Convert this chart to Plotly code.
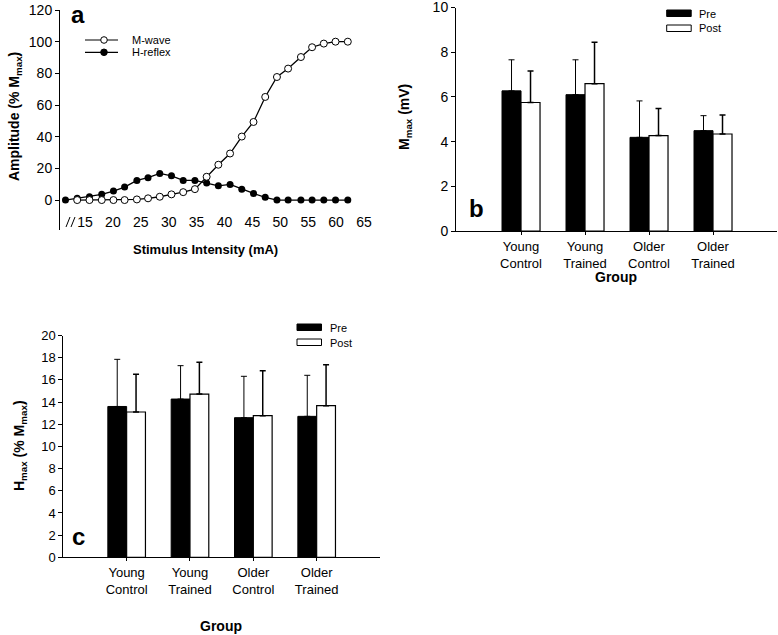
import plotly.graph_objects as go

W, H = 778, 635
FONT = "Liberation Sans, Arial, sans-serif"

# panel a: recruitment curve
stim_ma = [11.5, 13.6, 15.8, 18.0, 20.1, 22.1, 24.3, 26.3, 28.4, 30.5, 32.6, 34.7, 36.8,
           38.9, 41.0, 43.1, 45.2, 47.3, 49.4, 51.4, 53.7, 55.7, 57.8, 59.9, 62.1]
m_wave = [None, 0, 0, 0, 0, 0, 0.4, 1.1, 2.1, 3.6, 5.0, 6.9, 14.7,
          22.3, 29.4, 40.1, 49.3, 65.1, 77.7, 83.0, 90.3, 96.5, 98.8, 100.0, 100.0]
h_reflex = [0, 1.1, 2.1, 3.6, 5.7, 8.2, 12.4, 14.1, 16.8, 15.3, 12.4, 12.4, 10.7,
            9.0, 9.9, 6.9, 4.2, 1.7, 0, 0, 0, 0, 0, 0, 0]
stim_ticks = [15, 20, 25, 30, 35, 40, 45, 50, 55, 60, 65]

groups = ["Young<br>Control", "Young<br>Trained", "Older<br>Control", "Older<br>Trained"]

# panel b: Mmax (mV)
mmax_pre = [6.27, 6.10, 4.19, 4.49]
mmax_pre_sd = [1.39, 1.56, 1.63, 0.67]
mmax_post = [5.75, 6.59, 4.27, 4.34]
mmax_post_sd = [1.41, 1.85, 1.21, 0.85]

# panel c: Hmax (% Mmax)
hmax_pre = [13.6, 14.27, 12.59, 12.71]
hmax_pre_sd = [4.25, 3.01, 3.73, 3.70]
hmax_post = [13.1, 14.72, 12.77, 13.67]
hmax_post_sd = [3.40, 2.86, 4.06, 3.70]


def px(x):
    return x / W


def py(y):
    return 1 - y / H


fig = go.Figure()

fig.add_trace(go.Scatter(
    x=stim_ma, y=h_reflex, mode="lines+markers", name="H-reflex",
    line=dict(color="black", width=1.3),
    marker=dict(symbol="circle", size=7, color="black"),
    xaxis="x", yaxis="y", showlegend=False,
))
fig.add_trace(go.Scatter(
    x=stim_ma, y=m_wave, mode="lines+markers", name="M-wave",
    line=dict(color="black", width=1.3),
    marker=dict(symbol="circle", size=7, color="white", line=dict(color="black", width=1)),
    xaxis="x", yaxis="y", showlegend=False,
))


def add_bars(pre, pre_sd, post, post_sd, xa, ya):
    fig.add_trace(go.Bar(
        x=groups, y=pre, name="Pre", marker=dict(color="black", line=dict(color="black", width=1)),
        error_y=dict(type="data", symmetric=False, array=pre_sd, arrayminus=[0] * len(pre),
                     color="black", thickness=1, width=3),
        xaxis=xa, yaxis=ya, showlegend=False,
    ))
    fig.add_trace(go.Bar(
        x=groups, y=post, name="Post", marker=dict(color="white", line=dict(color="black", width=1.2)),
        error_y=dict(type="data", symmetric=False, array=post_sd, arrayminus=[0] * len(post),
                     color="black", thickness=1.5, width=3),
        xaxis=xa, yaxis=ya, showlegend=False,
    ))


add_bars(mmax_pre, mmax_pre_sd, mmax_post, mmax_post_sd, "x2", "y2")
add_bars(hmax_pre, hmax_pre_sd, hmax_post, hmax_post_sd, "x3", "y3")


def axis(size=14, **kw):
    base = dict(showgrid=False, zeroline=False, color="black", automargin=False,
                ticklabeloverflow="allow",
                tickfont=dict(family=FONT, size=size, color="black"))
    base.update(kw)
    return base


fig.update_layout(
    width=W, height=H,
    margin=dict(l=0, r=0, t=0, b=0, pad=0, autoexpand=False),
    template="none",
    paper_bgcolor="white", plot_bgcolor="white",
    font=dict(family=FONT, color="black"),
    barmode="group", bargap=0.406, bargroupgap=0,
    xaxis=axis(domain=[px(60), px(380)], range=[10.52, 67.87], anchor="free", position=py(212),
               showline=False, ticks="", tickvals=stim_ticks),
    yaxis=axis(domain=[py(230), py(10)], range=[-18.9, 120], anchor="x",
               showline=True, linecolor="black", linewidth=1, ticks="outside", ticklen=4,
               tickvals=[0, 20, 40, 60, 80, 100, 120]),
    xaxis2=axis(13, domain=[px(456), px(777)], range=[-1.016, 4.0], anchor="y2",
                showline=True, linecolor="black", linewidth=1, ticks="outside", ticklen=3),
    yaxis2=axis(domain=[py(231), py(7.5)], range=[0, 10], anchor="x2",
                showline=True, linecolor="black", linewidth=1, ticks="outside", ticklen=4,
                tickvals=[0, 2, 4, 6, 8, 10]),
    xaxis3=axis(13, domain=[px(63.3), px(380)], range=[-1.0, 4.0], anchor="y3",
                showline=True, linecolor="black", linewidth=1, ticks="outside", ticklen=3),
    yaxis3=axis(13, domain=[py(557.3), py(335.5)], range=[0, 20], anchor="x3",
                showline=True, linecolor="black", linewidth=1, ticks="outside", ticklen=4,
                tickvals=list(range(0, 21, 2))),
)

shapes = []
annotations = []


def text(x, y, s, size, angle=0, xanchor="center", bold=False):
    annotations.append(dict(
        x=px(x), y=py(y), xref="paper", yref="paper", text=f"<b>{s}</b>" if bold else s,
        showarrow=False, textangle=angle, xanchor=xanchor, yanchor="middle",
        font=dict(family=FONT, size=size, color="black"),
    ))


# axis titles and panel letters
text(15, 117, "Amplitude (% M<sub>max</sub>)", 14, angle=-90, bold=True)
text(205, 250, "Stimulus Intensity (mA)", 13, bold=True)
text(405, 117, "M<sub>max</sub> (mV)", 14, angle=-90, bold=True)
text(616, 277, "Group", 14, bold=True)
text(20, 446, "H<sub>max</sub> (% M<sub>max</sub>)", 14, angle=-90, bold=True)
text(221, 626, "Group", 14, bold=True)
text(78, 14, "a", 24, bold=True)
text(476, 208, "b", 24, bold=True)
text(78, 536, "c", 24, bold=True)

# axis break marks on panel a
for x0 in (66, 71):
    shapes.append(dict(type="line", xref="paper", yref="paper",
                       x0=px(x0), y0=py(227), x1=px(x0 + 4), y1=py(217),
                       line=dict(color="black", width=1)))

# legend, panel a
for yy, fill, label in ((40, "white", "M-wave"), (52.3, "black", "H-reflex")):
    shapes.append(dict(type="line", xref="paper", yref="paper",
                       x0=px(85), y0=py(yy), x1=px(118), y1=py(yy),
                       line=dict(color="black", width=1.2)))
    shapes.append(dict(type="circle", xref="paper", yref="paper",
                       x0=px(100.7), y0=py(yy + 3.3), x1=px(107.3), y1=py(yy - 3.3),
                       fillcolor=fill, line=dict(color="black", width=1)))
    text(130, yy, label, 11, xanchor="left")

# legends, panels b and c
for lx, ly in ((666.7, 10), (297, 324)):
    shapes.append(dict(type="rect", xref="paper", yref="paper",
                       x0=px(lx), y0=py(ly + 6.5), x1=px(lx + 24.5), y1=py(ly),
                       fillcolor="black", line=dict(color="black", width=1)))
    shapes.append(dict(type="rect", xref="paper", yref="paper",
                       x0=px(lx), y0=py(ly + 21.5), x1=px(lx + 24.5), y1=py(ly + 15),
                       fillcolor="white", line=dict(color="black", width=1)))
    text(lx + 30.5, ly + 3.5, "Pre", 11, xanchor="left")
    text(lx + 30.5, ly + 18.5, "Post", 11, xanchor="left")

fig.update_layout(shapes=shapes, annotations=annotations)

# the page's default body margin would shift the figure off its 778x635 frame
fig.write_html("out.html", config={"displayModeBar": False},
               post_script="document.body.style.margin = '0';")
